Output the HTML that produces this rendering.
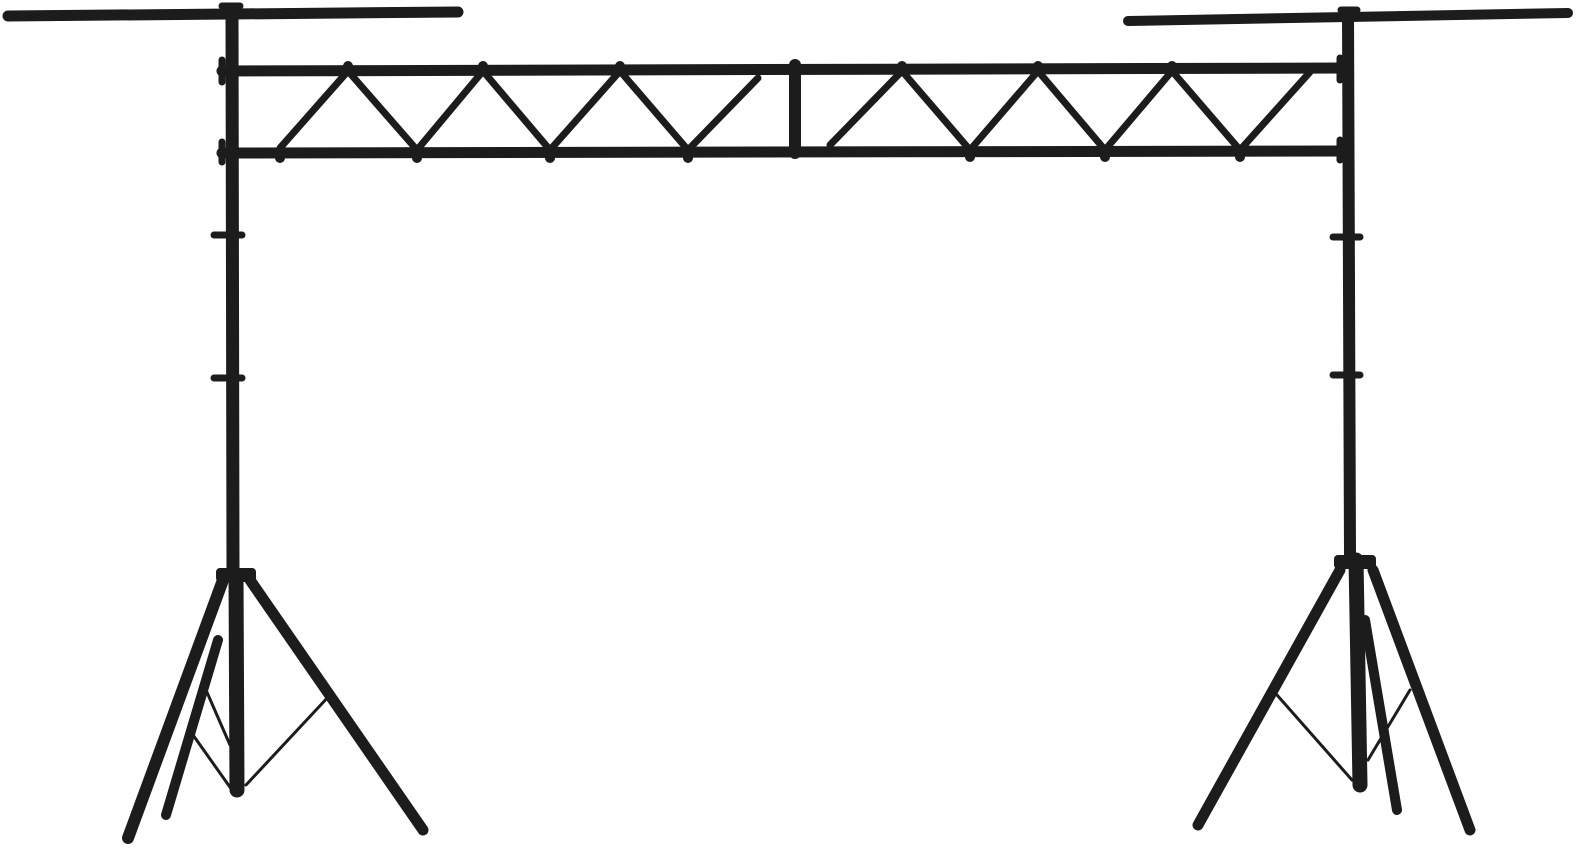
<!DOCTYPE html>
<html><head><style>html,body{margin:0;padding:0;background:#fff}svg{display:block}</style></head>
<body>
<svg width="1579" height="855" viewBox="0 0 1579 855" xmlns="http://www.w3.org/2000/svg">
<g stroke="#1c1c1c" stroke-linecap="round" fill="none">
<!-- T bars -->
<line x1="8" y1="16" x2="458" y2="12" stroke-width="11"/>
<line x1="1128" y1="21" x2="1568" y2="13" stroke-width="10"/>
<!-- masts -->
<line x1="232" y1="12" x2="233" y2="575" stroke-width="13"/>
<line x1="236" y1="575" x2="237" y2="790" stroke-width="15"/>
<line x1="1348" y1="16" x2="1350" y2="555" stroke-width="12"/>
<line x1="1356" y1="560" x2="1360" y2="785" stroke-width="15"/>
<!-- truss rails -->
<line x1="222" y1="71" x2="1345" y2="68" stroke-width="11"/>
<line x1="222" y1="153" x2="1345" y2="151" stroke-width="11"/>
<line x1="795" y1="65" x2="795" y2="153" stroke-width="12"/>
<!-- zigzags -->
<polyline points="280,148 348,71 417,150 483,71 550,150 620,71 688,150 758,78" stroke-width="7" stroke-linejoin="round"/>
<polyline points="830,145 902,71 970,150 1038,71 1105,150 1172,71 1240,150 1310,72" stroke-width="7" stroke-linejoin="round"/>
<!-- clamps -->
<g stroke-width="7">
<line x1="222" y1="60" x2="222" y2="82"/><line x1="222" y1="142" x2="222" y2="162"/>
<line x1="1340" y1="58" x2="1340" y2="80"/><line x1="1340" y1="140" x2="1340" y2="160"/>
<line x1="214" y1="235" x2="242" y2="235"/><line x1="214" y1="378" x2="242" y2="378"/>
<line x1="1333" y1="237" x2="1360" y2="237"/><line x1="1333" y1="375" x2="1360" y2="375"/>
<line x1="222" y1="6" x2="240" y2="6"/><line x1="1341" y1="10" x2="1357" y2="10"/>
</g>
<g fill="#1c1c1c" stroke="none">
<circle cx="348" cy="66" r="5"/><circle cx="483" cy="66" r="5"/><circle cx="620" cy="66" r="5"/>
<circle cx="902" cy="66" r="5"/><circle cx="1038" cy="66" r="5"/><circle cx="1172" cy="66" r="5"/>
<circle cx="280" cy="158" r="5"/><circle cx="417" cy="158" r="5"/><circle cx="550" cy="158" r="5"/><circle cx="688" cy="158" r="5"/>
<circle cx="970" cy="157" r="5"/><circle cx="1105" cy="157" r="5"/><circle cx="1240" cy="157" r="5"/>
</g>
<!-- left tripod -->
<rect x="216" y="568" width="40" height="14" rx="4" fill="#1c1c1c" stroke="none"/>
<line x1="223" y1="580" x2="128" y2="838" stroke-width="12"/>
<line x1="218" y1="640" x2="166" y2="815" stroke-width="10"/>
<line x1="250" y1="580" x2="423" y2="830" stroke-width="11"/>
<line x1="206" y1="690" x2="230" y2="745" stroke-width="3"/>
<line x1="193" y1="735" x2="232" y2="790" stroke-width="3"/>
<line x1="330" y1="695" x2="246" y2="785" stroke-width="3"/>
<!-- right tripod -->
<rect x="1334" y="555" width="42" height="14" rx="4" fill="#1c1c1c" stroke="none"/>
<line x1="1340" y1="570" x2="1198" y2="825" stroke-width="11"/>
<line x1="1373" y1="570" x2="1470" y2="830" stroke-width="11"/>
<line x1="1365" y1="620" x2="1397" y2="810" stroke-width="10"/>
<line x1="1277" y1="695" x2="1352" y2="780" stroke-width="3"/>
<line x1="1410" y1="690" x2="1368" y2="760" stroke-width="3"/>
</g>
</svg>
</body></html>
